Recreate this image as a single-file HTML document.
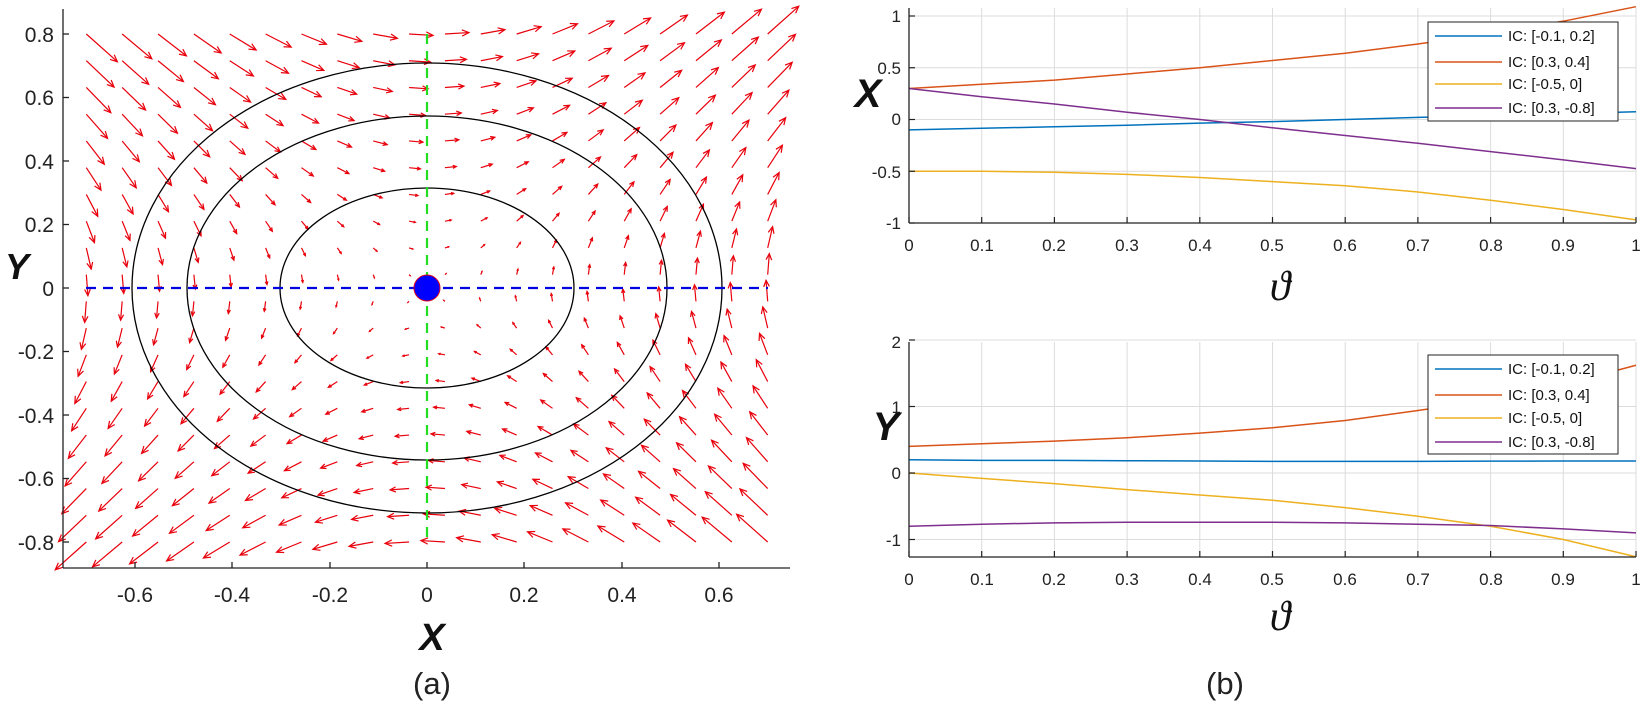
<!DOCTYPE html>
<html><head><meta charset="utf-8"><style>
html,body{margin:0;padding:0;background:#fff;}
svg{display:block;font-family:"Liberation Sans",sans-serif;}
</style></head><body>
<svg id="s" width="1647" height="709" viewBox="0 0 1647 709" xmlns="http://www.w3.org/2000/svg">
<rect width="1647" height="709" fill="#fff"/>
<g id="quiver" stroke="#e8000b" stroke-width="1.2" fill="none"></g>
<g fill="none" stroke="#000" stroke-width="1.3">
<ellipse cx="427" cy="288" rx="147" ry="100"/>
<ellipse cx="427" cy="288" rx="240" ry="172"/>
<ellipse cx="427" cy="288" rx="295" ry="225"/>
</g>
<line x1="86" y1="288" x2="768" y2="288" stroke="#0000e0" stroke-width="2.2" stroke-dasharray="10,7"/>
<line x1="427" y1="34" x2="427" y2="542" stroke="#22dd22" stroke-width="2.2" stroke-dasharray="10,7"/>
<circle cx="427" cy="288" r="13" fill="#0000ff" stroke="#e0001b" stroke-width="1"/>
<g stroke="#222" stroke-width="1.3">
<line x1="63" y1="9" x2="63" y2="568"/>
<line x1="63" y1="568" x2="790" y2="568"/>
<line x1="135" y1="568" x2="135" y2="562"/><line x1="232" y1="568" x2="232" y2="562"/><line x1="330" y1="568" x2="330" y2="562"/><line x1="427" y1="568" x2="427" y2="562"/><line x1="524" y1="568" x2="524" y2="562"/><line x1="622" y1="568" x2="622" y2="562"/><line x1="719" y1="568" x2="719" y2="562"/>
<line x1="63" y1="34" x2="69" y2="34"/><line x1="63" y1="97.5" x2="69" y2="97.5"/><line x1="63" y1="161" x2="69" y2="161"/><line x1="63" y1="224.5" x2="69" y2="224.5"/><line x1="63" y1="288" x2="69" y2="288"/><line x1="63" y1="351.5" x2="69" y2="351.5"/><line x1="63" y1="415" x2="69" y2="415"/><line x1="63" y1="478.5" x2="69" y2="478.5"/><line x1="63" y1="542" x2="69" y2="542"/>
</g>
<g font-size="21" fill="#222" text-anchor="middle">
<text x="135" y="602">-0.6</text><text x="232" y="602">-0.4</text><text x="330" y="602">-0.2</text><text x="427" y="602">0</text><text x="524" y="602">0.2</text><text x="622" y="602">0.4</text><text x="719" y="602">0.6</text>
</g>
<g font-size="21" fill="#222" text-anchor="end">
<text x="54" y="42">0.8</text><text x="54" y="105">0.6</text><text x="54" y="169">0.4</text><text x="54" y="232">0.2</text><text x="54" y="296">0</text><text x="54" y="359">-0.2</text><text x="54" y="423">-0.4</text><text x="54" y="486">-0.6</text><text x="54" y="550">-0.8</text>
</g>
<text x="432" y="650" font-size="38" font-weight="bold" font-style="italic" text-anchor="middle" fill="#111">X</text>
<text x="17" y="279" font-size="36" font-weight="bold" font-style="italic" text-anchor="middle" fill="#111">Y</text>
<text x="432" y="694" font-size="31" text-anchor="middle" fill="#222">(a)</text>
<text x="1225" y="694" font-size="31" text-anchor="middle" fill="#222">(b)</text>

<g id="top"></g>
<g id="bot"></g>
<g font-size="17" fill="#222" text-anchor="middle">
<text x="909" y="251">0</text><text x="982" y="251">0.1</text><text x="1054" y="251">0.2</text><text x="1127" y="251">0.3</text><text x="1200" y="251">0.4</text><text x="1272" y="251">0.5</text><text x="1345" y="251">0.6</text><text x="1418" y="251">0.7</text><text x="1491" y="251">0.8</text><text x="1563" y="251">0.9</text><text x="1636" y="251">1</text>
<text x="909" y="585">0</text><text x="982" y="585">0.1</text><text x="1054" y="585">0.2</text><text x="1127" y="585">0.3</text><text x="1200" y="585">0.4</text><text x="1272" y="585">0.5</text><text x="1345" y="585">0.6</text><text x="1418" y="585">0.7</text><text x="1491" y="585">0.8</text><text x="1563" y="585">0.9</text><text x="1636" y="585">1</text>
</g>
<g font-size="17" fill="#222" text-anchor="end">
<text x="901" y="22">1</text><text x="901" y="74">0.5</text><text x="901" y="125">0</text><text x="901" y="178">-0.5</text><text x="901" y="229">-1</text>
<text x="901" y="348">2</text><text x="901" y="413">1</text><text x="901" y="479">0</text><text x="901" y="546">-1</text>
</g>
<text x="868" y="107" font-size="40" font-weight="bold" font-style="italic" text-anchor="middle" fill="#111">X</text>
<text x="886" y="440" font-size="40" font-weight="bold" font-style="italic" text-anchor="middle" fill="#111">Y</text>
<text x="1280" y="300" font-size="42" font-style="italic" font-family="'Liberation Serif','DejaVu Serif',serif" text-anchor="middle" fill="#111">ϑ</text>
<text x="1280" y="630" font-size="42" font-style="italic" font-family="'Liberation Serif','DejaVu Serif',serif" text-anchor="middle" fill="#111">ϑ</text>

<g>
<rect x="1428" y="22" width="190" height="99" fill="#fff" stroke="#222" stroke-width="1"/>
<line x1="1435" y1="36" x2="1502" y2="36" stroke="#0072BD" stroke-width="1.5"/>
<line x1="1435" y1="62" x2="1502" y2="62" stroke="#D95319" stroke-width="1.5"/>
<line x1="1435" y1="84" x2="1502" y2="84" stroke="#EDB120" stroke-width="1.5"/>
<line x1="1435" y1="108" x2="1502" y2="108" stroke="#7E2F8E" stroke-width="1.5"/>
<g font-size="15" fill="#111"><text x="1508" y="41">IC: [-0.1, 0.2]</text><text x="1508" y="67">IC: [0.3, 0.4]</text><text x="1508" y="89">IC: [-0.5, 0]</text><text x="1508" y="113">IC: [0.3, -0.8]</text></g>
</g>
<g>
<rect x="1428" y="355" width="190" height="99" fill="#fff" stroke="#222" stroke-width="1"/>
<line x1="1435" y1="369" x2="1502" y2="369" stroke="#0072BD" stroke-width="1.5"/>
<line x1="1435" y1="395" x2="1502" y2="395" stroke="#D95319" stroke-width="1.5"/>
<line x1="1435" y1="418" x2="1502" y2="418" stroke="#EDB120" stroke-width="1.5"/>
<line x1="1435" y1="442" x2="1502" y2="442" stroke="#7E2F8E" stroke-width="1.5"/>
<g font-size="15" fill="#111"><text x="1508" y="374">IC: [-0.1, 0.2]</text><text x="1508" y="400">IC: [0.3, 0.4]</text><text x="1508" y="423">IC: [-0.5, 0]</text><text x="1508" y="447">IC: [0.3, -0.8]</text></g>
</g>
</svg>
<script>
var NS="http://www.w3.org/2000/svg";
function el(p,t,a){var e=document.createElementNS(NS,t);for(var k in a)e.setAttribute(k,a[k]);p.appendChild(e);return e;}
var q=document.getElementById("quiver");
for(var i=0;i<20;i++)for(var j=0;j<20;j++){
 var x=-0.7+i*1.4/19,y=-0.8+j*1.6/19;
 var u=y*(1+0.6*x*x),v=x*(1+0.5*y*y);
 var K=30;
 var px=427+x*486.7,py=288-y*317.5;
 var dx=u*K,dy=-v*K;
 var L=Math.sqrt(dx*dx+dy*dy);
 var tx=px+dx,ty=py+dy;
 el(q,"line",{x1:px,y1:py,x2:tx,y2:ty});
 if(L>1.5){var ux=dx/L,uy=dy/L,h=Math.min(7,L*0.3),w=h*0.45;
  el(q,"polyline",{points:(tx-ux*h-uy*w)+","+(ty-uy*h+ux*w)+" "+tx+","+ty+" "+(tx-ux*h+uy*w)+","+(ty-uy*h-ux*w)});}
}
function panel(g,y0,ppu,ymin,ymax,yt,ybot,ytop,series){
 var G=document.getElementById(g);
 function Y(v){return y0-v*ppu;}
 for(var t=0;t<=10;t++){var x=909+72.7*t;el(G,"line",{x1:x,y1:ytop,x2:x,y2:ybot,stroke:"#dcdcdc","stroke-width":1});}
 yt.forEach(function(v){el(G,"line",{x1:909,y1:Y(v),x2:1636,y2:Y(v),stroke:"#dcdcdc","stroke-width":1});});
 series.forEach(function(s){var pts=[];for(var t=0;t<=10;t++)pts.push((909+72.7*t)+","+Y(s[1][t]));el(G,"polyline",{points:pts.join(" "),fill:"none",stroke:s[0],"stroke-width":1.5});});
 el(G,"line",{x1:909,y1:ytop,x2:909,y2:ybot,stroke:"#222","stroke-width":1.3});
 el(G,"line",{x1:909,y1:ybot,x2:1636,y2:ybot,stroke:"#222","stroke-width":1.3});
 for(var t=0;t<=10;t++){var x=909+72.7*t;el(G,"line",{x1:x,y1:ybot,x2:x,y2:ybot-6,stroke:"#222","stroke-width":1.2});}
 yt.forEach(function(v){el(G,"line",{x1:909,y1:Y(v),x2:915,y2:Y(v),stroke:"#222","stroke-width":1.2});});
}
panel("top",119.5,103.5,-1,1.1,[-1,-0.5,0,0.5,1],223,8,[
 ["#0072BD",[-0.1,-0.085,-0.07,-0.055,-0.035,-0.02,0,0.02,0.035,0.055,0.075]],
 ["#D95319",[0.3,0.34,0.38,0.44,0.5,0.57,0.64,0.73,0.83,0.95,1.09]],
 ["#EDB120",[-0.5,-0.5,-0.51,-0.53,-0.56,-0.6,-0.64,-0.7,-0.78,-0.87,-0.97]],
 ["#7E2F8E",[0.3,0.22,0.15,0.07,0,-0.08,-0.155,-0.23,-0.31,-0.39,-0.475]]]);
panel("bot",473,66.5,-1.25,2,[-1,0,1,2],557,342,[
 ["#0072BD",[0.2,0.19,0.19,0.185,0.18,0.175,0.175,0.175,0.178,0.18,0.18]],
 ["#D95319",[0.4,0.44,0.48,0.53,0.6,0.68,0.79,0.94,1.1,1.33,1.62]],
 ["#EDB120",[0,-0.08,-0.16,-0.25,-0.33,-0.41,-0.52,-0.65,-0.8,-1.0,-1.26]],
 ["#7E2F8E",[-0.8,-0.77,-0.75,-0.74,-0.74,-0.74,-0.75,-0.77,-0.79,-0.84,-0.9]]]);
</script>
</body></html>
